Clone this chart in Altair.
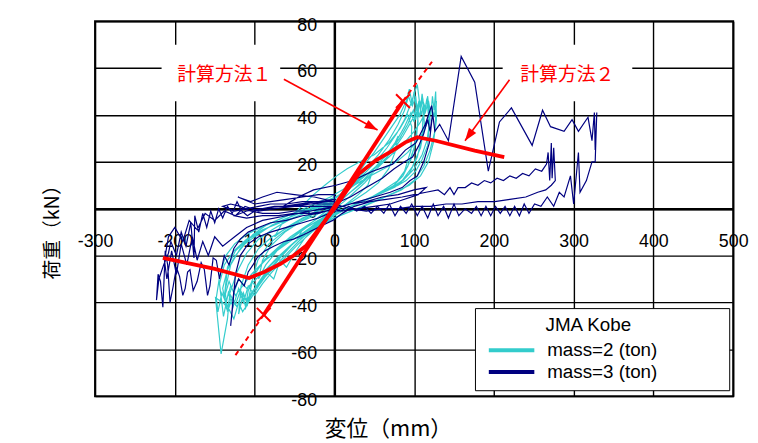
import altair as alt
import pandas as pd

# ---------------- data ----------------
x_ticks = [-300, -200, -100, 0, 100, 200, 300, 400, 500]
y_ticks = [-80, -60, -40, -20, 0, 20, 40, 60, 80]
series_names = ["mass=2 (ton)", "mass=3 (ton)"]
series_colors = ["#33CCCC", "#000080"]

# mass=2 (ton) hysteresis, in time order (displacement mm, load kN)
m2_a = [(0, 0), (12, 3), (25, 7), (38, 11), (46, 14), (42, 10), (30, 6), (15, 2), (0, -1), (-15, -4),
        (-30, -8), (-42, -11), (-48, -14), (-40, -9), (-25, -5), (-10, -1), (5, 3)]
m2_b = [(20, 7), (35, 11), (50, 16), (62, 20), (72, 25), (80, 31), (76, 24), (68, 17), (55, 11), (40, 7),
        (22, 3), (5, 0), (-15, -4), (-35, -8), (-55, -13), (-72, -18), (-86, -24), (-95, -30), (-90, -22),
        (-80, -16), (-62, -10), (-40, -5), (-20, -1), (0, 3)]
m2_c = [(18, 8), (35, 14), (52, 20), (66, 26), (78, 32), (88, 38), (95, 44), (100, 49), (104, 53), (108, 42),
        (111, 47), (113, 35), (108, 26), (98, 18), (85, 12), (68, 8), (48, 5), (28, 2), (8, -1), (-12, -4),
        (-32, -9), (-52, -15), (-68, -21), (-82, -27), (-95, -33), (-106, -39), (-115, -44), (-120, -40),
        (-126, -47), (-132, -43), (-140, -40), (-149, -38), (-142, -62), (-134, -47), (-131, -36), (-122, -27),
        (-110, -19), (-95, -13), (-78, -9), (-58, -5), (-38, -2), (-18, 1), (2, 5)]
m2_d = [(20, 9), (38, 16), (55, 23), (68, 29), (80, 36), (88, 42), (93, 48), (97, 44), (100, 50), (104, 40),
        (106, 45), (103, 30), (96, 21), (86, 14), (72, 9), (55, 6), (35, 3), (15, 0), (-5, -3), (-25, -8),
        (-45, -14), (-62, -20), (-78, -26), (-92, -31), (-104, -36), (-112, -41), (-116, -36), (-122, -42),
        (-128, -38), (-134, -44), (-137, -35), (-130, -24), (-118, -17), (-102, -11), (-85, -7), (-65, -4),
        (-45, -1), (-25, 2), (-5, 5)]
m2_e = [(15, 9), (32, 13), (50, 17), (65, 21), (78, 25), (90, 29), (100, 33), (108, 37), (114, 41), (118, 46),
        (121, 40), (123, 48), (125, 42), (127, 50), (128, 38), (124, 28), (118, 20), (108, 14), (94, 10),
        (76, 7), (56, 4), (35, 1), (14, -2), (-8, -5), (-30, -9), (-52, -13), (-72, -18), (-90, -23),
        (-104, -28), (-115, -33), (-124, -37), (-130, -33), (-136, -40), (-141, -36), (-146, -44), (-148, -38),
        (-143, -27), (-136, -20), (-125, -15), (-110, -11), (-92, -8), (-72, -5), (-52, -2), (-32, 0), (-12, 3)]
m2_f = [(8, 6), (25, 10), (45, 14), (62, 17), (78, 20), (92, 24), (104, 29), (112, 33), (118, 38), (122, 44),
        (125, 39), (128, 46), (126, 33), (120, 25), (112, 18), (100, 12), (84, 8), (64, 5), (44, 2), (22, -1),
        (0, -4), (-22, -8), (-45, -13), (-65, -19), (-82, -25), (-96, -32), (-106, -38), (-112, -43),
        (-108, -35), (-100, -28), (-88, -22), (-72, -17), (-55, -12), (-38, -8), (-20, -4), (0, 0)]
m2_g = [(12, 7), (25, 13), (38, 19), (50, 24), (62, 30), (72, 35), (82, 40), (90, 46), (94, 51), (98, 44),
        (102, 48), (105, 37), (100, 26), (92, 18), (80, 12), (62, 8), (42, 4), (20, 1), (0, -2), (-20, -5),
        (-40, -9), (-60, -14), (-78, -19), (-92, -24), (-102, -29), (-96, -22), (-82, -15), (-64, -10),
        (-45, -6), (-25, -3), (-8, 0), (0, 1)]
m2_h = [(-10, -2), (-25, -8), (-38, -13), (-50, -19), (-60, -25), (-68, -22), (-76, -30), (-85, -27),
        (-97, -34), (-103, -31), (-109, -41), (-114, -36), (-120, -45), (-117, -33), (-108, -24), (-95, -17),
        (-78, -12), (-58, -8), (-38, -4), (-18, 0), (0, 2)]
m2_i = [(-20, -1), (-40, -4), (-60, -8), (-75, -12), (-65, -6), (-50, -2), (-38, 2), (-26, 6), (-12, 10),
        (3, 14), (16, 17), (32, 20), (50, 23), (68, 28), (82, 34), (92, 40), (97, 35), (96, 25), (88, 16),
        (75, 10), (55, 6), (35, 3), (15, 0), (0, -1)]
m2_j = [(10, 4), (30, 10), (50, 17), (65, 23), (78, 29), (88, 35), (96, 41), (100, 37), (103, 45), (107, 39),
        (110, 49), (113, 41), (116, 47), (119, 36), (117, 27), (110, 21), (102, 16), (90, 12), (75, 9),
        (55, 6), (35, 3), (15, 0), (-5, -4), (-25, -9), (-45, -15), (-62, -21), (-78, -27), (-90, -32),
        (-100, -37), (-108, -33), (-114, -40), (-120, -34), (-127, -42), (-133, -36), (-139, -46),
        (-144, -32), (-138, -24), (-126, -18), (-110, -13), (-90, -9), (-68, -6), (-45, -3), (-22, 0), (0, 3)]
m2_k = [(5, 4), (20, 9), (35, 13), (52, 18), (68, 24), (82, 30), (92, 36), (99, 42), (102, 38), (106, 46),
        (109, 40), (112, 45), (110, 31), (104, 22), (94, 15), (80, 10), (60, 7), (40, 4), (20, 1), (0, -2),
        (-20, -6), (-40, -11), (-58, -17), (-74, -23), (-88, -29), (-100, -34), (-110, -39), (-118, -35),
        (-124, -41), (-130, -37), (-135, -43), (-140, -34), (-134, -26), (-124, -20), (-112, -15), (-96, -11),
        (-78, -7), (-58, -4), (-38, -1), (-18, 2), (0, 4)]
m2_l = [(15, 8), (30, 12), (45, 16), (60, 20), (74, 25), (86, 31), (96, 37), (104, 42), (110, 47), (114, 43),
        (117, 48), (120, 38), (116, 29), (110, 23), (100, 17), (86, 12), (68, 8), (48, 5), (28, 2), (8, -1),
        (-14, -5), (-36, -10), (-56, -16), (-72, -21), (-86, -26), (-98, -30), (-110, -34), (-120, -30),
        (-126, -36), (-132, -31), (-138, -38), (-134, -25), (-124, -18), (-108, -13), (-88, -9), (-66, -5),
        (-44, -2), (-22, 1), (0, 3)]
mass2_segments = [m2_a, m2_b, m2_c, m2_d, m2_e, m2_f, m2_g, m2_h, m2_i, m2_j, m2_k, m2_l]

# mass=3 (ton) hysteresis, in time order
m3_a = [(0, 0), (20, 2), (40, 3), (60, 5), (80, 6), (100, 8), (115, 9), (105, 6), (88, 4), (70, 2), (50, 1),
        (30, 0), (10, -1), (-10, -1), (-30, -2), (-50, -2), (-70, -3), (-90, -3), (-110, -4), (-125, -3),
        (-110, -1), (-90, 0), (-70, 1), (-50, 1), (-30, 2), (-10, 3), (0, 4)]
m3_b = [(-20, 3), (-45, 2), (-64, 1), (-45, 5), (-26, 8), (2, 10), (23, 12), (48, 16), (73, 19), (89, 25),
        (102, 28), (114, 36), (122, 44), (126, 33), (132, 36), (143, 29), (159, 65), (176, 54), (193, 16),
        (207, 37), (222, 43), (235, 35), (248, 27), (261, 42), (271, 35), (288, 33), (298, 38), (306, 33),
        (318, 39), (323, 29), (326, 41), (327, 25), (329, 41), (327, 20), (323, 20), (316, 12), (308, 7),
        (306, 24), (300, 2), (296, 14), (288, 5), (282, 7), (275, 1), (267, 5), (259, 1), (251, 2), (244, -2),
        (238, 2), (232, -3), (226, 1), (220, -3), (214, 1), (208, -2), (202, 1), (196, -3), (190, 1),
        (184, -3), (178, 1), (172, -2), (164, 0)]
m3_c = [(156, -3), (150, 2), (143, -4), (137, 1), (130, -3), (124, 2), (117, -4), (110, 1), (104, -3),
        (97, 2), (90, -2), (83, 1), (76, -3), (69, 2), (62, -2), (54, 1), (46, -2), (38, 1), (28, -1),
        (18, 1), (8, -1), (0, 0)]
m3_d = [(-20, -2), (-40, -3), (-60, -5), (-80, -6), (-95, -8), (-108, -10), (-118, -13), (-126, -17),
        (-132, -24), (-138, -20), (-144, -30), (-148, -22), (-152, -21), (-156, -33), (-159, -37),
        (-163, -26), (-167, -23), (-172, -31), (-177, -35), (-181, -26), (-184, -27), (-187, -34),
        (-190, -37), (-194, -29), (-198, -25), (-202, -33), (-206, -40), (-209, -24), (-212, -18),
        (-215, -42), (-218, -31), (-221, -28), (-223, -39), (-220, -30), (-214, -24), (-208, -19),
        (-205, -14), (-198, -20), (-192, -10), (-186, -16), (-180, -6), (-176, -21), (-175, -3),
        (-170, -10), (-165, -2), (-160, -8), (-155, -1), (-150, -6), (-145, 0), (-140, -4), (-134, 1),
        (-128, -2), (-122, 3), (-116, -1), (-109, -3), (-100, -1), (-90, 0), (-75, 1), (-60, 1),
        (-40, 2), (-20, 2), (0, 2)]
m3_e = [(0, -1), (-20, -4), (-40, -6), (-60, -8), (-80, -10), (-95, -12), (-108, -15), (-118, -20),
        (-124, -28), (-127, -40), (-130, -50), (-126, -35), (-120, -30), (-113, -33), (-108, -27),
        (-102, -24), (-97, -21), (-87, -18), (-76, -16), (-63, -14), (-51, -13), (-38, -11), (-26, -9),
        (-14, -7), (-2, -5), (10, -2), (25, 1)]
m3_f = [(45, 3), (65, 4), (85, 5), (100, 6), (115, 7), (130, 8), (138, 6), (145, 9), (150, 6), (155, 9),
        (164, 9), (172, 11), (180, 10), (188, 12), (196, 11), (204, 13), (212, 12), (220, 14), (228, 13),
        (236, 15), (244, 14), (252, 17), (260, 16), (266, 19), (268, 24), (270, 12), (272, 28), (273, 13),
        (275, 26), (277, 12), (272, 10), (265, 8), (255, 7), (240, 5), (220, 4), (201, 3), (180, 3),
        (160, 2), (140, 2), (120, 1), (100, 1), (80, 0), (60, 0), (40, -1), (20, 0), (0, 2)]
m3_g = [(20, 5), (40, 9), (60, 13), (75, 17), (88, 20), (98, 22), (106, 27), (112, 32), (117, 38),
        (120, 33), (123, 40), (119, 28), (112, 20), (104, 14), (95, 12), (85, 9), (70, 7), (50, 5), (30, 3),
        (10, 1), (-10, 0), (-30, -1), (-50, -1), (-70, -2), (-90, -2), (-105, -1), (-118, 1), (-130, 2),
        (-140, 1), (-125, -1), (-110, 0), (-95, 1), (-80, 2), (-60, 2), (-40, 3), (-20, 3), (0, 3)]
m3_h = [(-25, 5), (-50, 6), (-72, 7), (-90, 5), (-105, 3), (-121, 5), (-100, 2), (-80, 3), (-60, 4),
        (-40, 5), (-20, 6), (0, 6)]
m3_i = [(0, 1), (-30, -1), (-60, -3), (-90, -5), (-110, -8), (-125, -12), (-140, -16), (-150, -12),
        (-158, -20), (-165, -14), (-172, -22), (-178, -12), (-185, -24), (-192, -15), (-198, -28),
        (-204, -18), (-210, -30), (-213, -22), (-208, -12), (-200, -8), (-190, -14), (-182, -5), (-172, -9),
        (-162, -2), (-150, -5), (-138, -1), (-124, -3), (-112, 1), (-95, -1), (-75, 0), (-50, 1), (-25, 1),
        (0, 1)]
mass3_segments = [m3_a, m3_b, m3_c, m3_d, m3_e, m3_f, m3_g, m3_h, m3_i]

# calculation method 1 (straight stiffness line) and 2 (curve)
method1_x = [-88.5, 86]
method1_y = [-45.3, 45.9]
method1_ext_x = [-124, -88.5, 86, 122.4]
method1_ext_y = [-62.5, -45.3, 45.9, 62.7]
method1_ext_part = ["lo", "lo", "hi", "hi"]
method2_x = [-215, -150, -107, -88, -68, -51, -35, -18, 0, 15, 31, 52, 73, 89, 104, 127, 176, 213]
method2_y = [-21, -25.7, -29.6, -27, -23.6, -20, -15.7, -8, 0, 7.5, 15, 20.6, 24.8, 28.3, 30.5, 29, 24.8, 22]

# annotations
label_text = ["計算方法１", "計算方法２"]
label_x = [-138, 292]
label_y = [57.2, 57.2]
box_x1 = [-216.6, 211]
box_x2 = [-67.9, 373.5]
box_y1 = [45.8, 45.8]
box_y2 = [69.9, 69.9]
arrow1_x = [-63.3, 54.2]
arrow1_y = [55.2, 33.6]
arrow2_x = [219.6, 163.8]
arrow2_y = [55.0, 29.0]

# ---------------- tables ----------------
rows = []
k = 0
for name, segs in ((series_names[0], mass2_segments), (series_names[1], mass3_segments)):
    for seg in segs:
        for px, py in seg:
            rows.append({"x": px, "y": py, "series": name, "idx": k})
            k += 1
traces_df = pd.DataFrame(rows)

m1_df = pd.DataFrame({"x": method1_x, "y": method1_y})
m1e_df = pd.DataFrame({"x": method1_ext_x, "y": method1_ext_y, "part": method1_ext_part})
m2_df = pd.DataFrame({"x": method2_x, "y": method2_y})
box_df = pd.DataFrame({"x": box_x1, "x2": box_x2, "y": box_y1, "y2": box_y2})
lab_df = pd.DataFrame({"x": label_x, "y": label_y, "t": label_text})
arr_df = pd.DataFrame({"x": arrow1_x + arrow2_x, "y": arrow1_y + arrow2_y,
                       "a": ["a1", "a1", "a2", "a2"]})
head1_df = pd.DataFrame({"x": arrow1_x[1:], "y": arrow1_y[1:]})
head2_df = pd.DataFrame({"x": arrow2_x[1:], "y": arrow2_y[1:]})

# ---------------- encodings ----------------
xs = alt.Scale(domain=[-300, 500], nice=False, zero=False)
ys = alt.Scale(domain=[-80, 80], nice=False, zero=False)

x_axis = alt.Axis(
    values=x_ticks, grid=True, gridColor="#000000", gridWidth=1.4, gridOpacity=1,
    domain=True, domainColor="#000000", domainWidth=2.5, ticks=False, tickSize=0,
    labelFont="Liberation Sans", labelFontSize=18, labelColor="#000000", labelPadding=24,
    labelFlush=False, labelOverlap=False, labelExpr="'' + datum.value",
    offset=-189.5,
    title="変位（mm）", titleFont="Noto Sans CJK JP", titleFontSize=22, titleFontWeight="normal",
    titleColor="#000000", titleX=296, titleY=222, titleAlign="center", titleBaseline="middle",
)
y_axis = alt.Axis(
    values=y_ticks, grid=True, gridColor="#000000", gridWidth=1.4, gridOpacity=1,
    domain=True, domainColor="#000000", domainWidth=2.5, ticks=False, tickSize=0,
    labelFont="Liberation Sans", labelFontSize=18, labelColor="#000000", labelPadding=18,
    labelOffset=4, labelFlush=False, labelOverlap=False, labelExpr="'' + datum.value",
    offset=-241.875,
    title="荷重（kN）", titleFont="Noto Sans CJK JP", titleFontSize=20, titleFontWeight="normal",
    titleColor="#000000", titleX=-285, titleY=208, titleAngle=270, titleAlign="center",
    titleBaseline="middle",
)
X = alt.X("x:Q", scale=xs, axis=x_axis)
Y = alt.Y("y:Q", scale=ys, axis=y_axis)

legend_title = "\u200b" + "\u00a0" * 12 + "JMA Kobe" + "\u00a0" * 17 + "\u200b"
legend = alt.Legend(
    orient="none", legendX=384, legendY=290,
    title=legend_title,
    titleFont="Liberation Sans", titleFontSize=19, titleFontWeight="normal", titleColor="#000000",
    titleLimit=600, titlePadding=6, titleAnchor="start",
    labelFont="Liberation Sans", labelFontSize=19, labelColor="#000000", labelLimit=400,
    labelOffset=11, symbolType="stroke", symbolSize=2116, symbolStrokeWidth=4, symbolOffset=4,
    clipHeight=19, rowPadding=2, padding=8, fillColor="#FFFFFF", strokeColor="#000000",
)

boxes = alt.Chart(box_df).mark_rect(color="#FFFFFF").encode(x=X, x2="x2:Q", y=Y, y2="y2:Q")

traces = alt.Chart(traces_df).mark_line(strokeWidth=1.2).encode(
    x=X, y=Y,
    color=alt.Color("series:N", scale=alt.Scale(domain=series_names, range=series_colors), legend=legend),
    order=alt.Order("idx:Q"),
)

m1_ext = alt.Chart(m1e_df).mark_line(color="#FF0000", strokeWidth=2, strokeDash=[5, 4]).encode(
    x=X, y=Y, detail="part:N")
m1_line = alt.Chart(m1_df).mark_line(color="#FF0000", strokeWidth=3.8).encode(x=X, y=Y)
m2_line = alt.Chart(m2_df).mark_line(color="#FF0000", strokeWidth=3.8).encode(x=X, y=Y)
crosses = alt.Chart(m1_df).mark_point(
    shape="M-1,-1L1,1M-1,1L1,-1", size=196, color="#FF0000", filled=False, strokeWidth=2, opacity=1
).encode(x=X, y=Y)

arrows = alt.Chart(arr_df).mark_line(color="#FF0000", strokeWidth=1.6).encode(x=X, y=Y, detail="a:N")
head1 = alt.Chart(head1_df).mark_point(
    shape="M0,0L-2,-0.7L-2,0.7Z", size=169, filled=True, color="#FF0000", angle=28, opacity=1
).encode(x=X, y=Y)
head2 = alt.Chart(head2_df).mark_point(
    shape="M0,0L-2,-0.7L-2,0.7Z", size=169, filled=True, color="#FF0000", angle=126, opacity=1
).encode(x=X, y=Y)

labels = alt.Chart(lab_df).mark_text(
    font="Noto Sans CJK JP", fontSize=19, color="#FF0000", align="center", baseline="middle"
).encode(x=X, y=Y, text="t:N")

chart = alt.layer(
    boxes, traces, m1_ext, m1_line, m2_line, crosses, arrows, head1, head2, labels
).properties(
    width=645, height=379,
    autosize=alt.AutoSizeParams(type="none"),
    padding={"left": 88, "top": 11, "right": 17, "bottom": 45},
    background="#FFFFFF",
).configure_view(
    stroke="#000000", strokeWidth=2, fill="#FFFFFF"
)

chart.save("out.html", embed_options={"renderer": "svg", "actions": False})
